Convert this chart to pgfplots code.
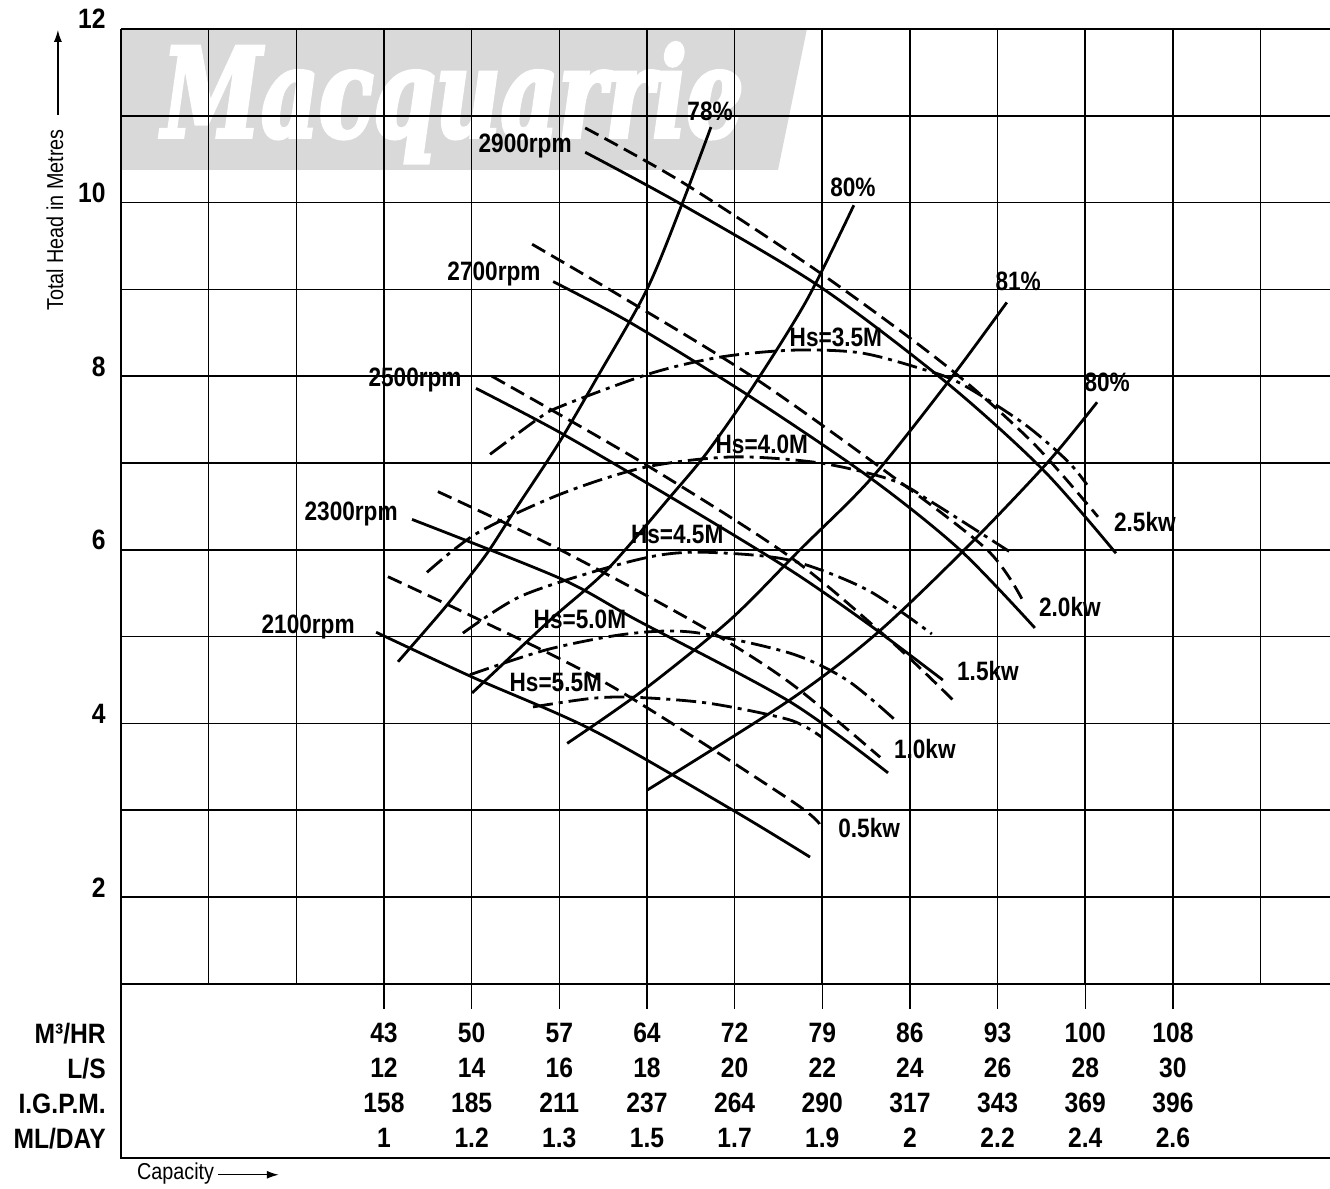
\documentclass[border=0pt]{standalone}
\usepackage{fontspec}
\setmainfont{Liberation Sans}
\newfontfamily\condb[FakeStretch=0.85]{Liberation Sans Bold}
\newfontfamily\condt[FakeStretch=0.88]{Liberation Sans Bold}
\newfontfamily\condr[FakeStretch=0.86]{Liberation Sans}
\newfontfamily\wmfont[FakeStretch=0.72,FakeBold=3]{DejaVu Serif Bold Italic}
\usepackage{pgfplots}
\pgfplotsset{compat=1.18}
\usetikzlibrary{arrows.meta}
\definecolor{wm}{RGB}{217,217,217}
\newcommand\tickf{\condt\fontsize{14}{17.5}\selectfont}
\newcommand\labf{\condb\fontsize{13.3}{14}\selectfont}
\begin{document}
\begin{tikzpicture}[
  dsh/.style={dash pattern=on 7.5pt off 3.5pt},
  dd/.style={dash pattern=on 10pt off 3pt on 2pt off 3pt},
  lab/.style={font=\labf, anchor=base, inner sep=0pt},
]
\begin{axis}[
  set layers,
  scale only axis,
  width=604.4pt, height=477.4pt,
  xmin=6, xmax=33.58, ymin=1, ymax=12,
  clip=false,
  axis line style={draw=none},
  /pgf/number format/assume math mode=true,
  xtick={12,14,...,30},
  xticklabels={{43\\12\\158\\1},{50\\14\\185\\1.2},{57\\16\\211\\1.3},{64\\18\\237\\1.5},{72\\20\\264\\1.7},{79\\22\\290\\1.9},{86\\24\\317\\2},{93\\26\\343\\2.2},{100\\28\\369\\2.4},{108\\30\\396\\2.6}},
  extra x ticks={6,8,10,32},
  extra x tick labels={},
  extra x tick style={major tick length=0pt, grid=major},
  ytick={2,4,...,12},
  yticklabels={2,4,6,8,10,12},
  extra y ticks={1,3,...,11},
  extra y tick labels={},
  extra y tick style={major tick length=0pt, grid=major},
  grid=major,
  major grid style={black, line width=0.8pt},
  tick style={black, line width=0.7pt},
  tick align=outside,
  tick pos=left,
  major tick length=12.5pt,
  ytick style={draw=none},
  xticklabel style={font=\tickf, align=center, anchor=north, inner sep=0pt, yshift=-7pt},
  yticklabel style={font=\tickf, anchor=base east, inner sep=0pt, xshift=5pt},
  no markers,
  every axis plot/.append style={black, line width=1.4pt, smooth, tension=0.5},
]
\begin{pgfonlayer}{axis background}
\fill[wm] (axis cs:6,12) -- (axis cs:21.65,12) -- (axis cs:20.99,10.376) -- (axis cs:6,10.376) -- cycle;
\node[anchor=base west, inner sep=0pt, text=white, font=\wmfont\fontsize{62}{62}\selectfont] at (axis cs:6.935,10.756) {Macquarrie};
\end{pgfonlayer}

% speed curves (solid)
\addplot[solid] coordinates {(16.59,10.58) (18.82,9.97) (21.95,9.03) (24.85,7.92) (27.04,6.92) (28.70,5.96)};
\addplot[solid] coordinates {(15.86,9.09) (17.61,8.62) (20.28,7.79) (23.09,6.83) (25.14,6.00) (26.85,5.10)};
\addplot[solid] coordinates {(14.10,7.86) (16.02,7.35) (18.53,6.61) (21.26,5.77) (23.09,5.13) (24.75,4.50)};
\addplot[solid] coordinates {(12.64,6.35) (16.02,5.67) (17.77,5.19) (21.26,4.25) (23.50,3.43)};
\addplot[solid] coordinates {(11.82,5.05) (14.03,4.53) (16.77,3.92) (19.96,3.00) (21.72,2.46)};
% power curves (dashed)
\addplot[dsh] coordinates {(16.59,10.86) (18.82,10.23) (21.95,9.19) (24.85,8.11) (26.81,7.23) (28.29,6.38)};
\addplot[dsh] coordinates {(15.38,9.52) (17.54,8.88) (20.42,7.99) (23.32,6.95) (25.76,6.00) (26.60,5.39)};
\addplot[dsh] coordinates {(14.46,8.00) (17.91,7.00) (21.26,5.92) (23.54,4.96) (24.98,4.27)};
\addplot[dsh] coordinates {(13.23,6.67) (16.02,6.00) (19.21,5.13) (21.26,4.47) (23.32,3.61)};
\addplot[dsh] coordinates {(12.09,5.69) (14.19,5.19) (17.22,4.42) (21.26,3.12) (21.95,2.83)};
% efficiency curves
\addplot[solid] coordinates {(12.32,4.71) (13.35,5.31) (14.01,5.73) (14.42,6.01) (15.03,6.49) (15.99,7.23) (16.88,8.00) (18.00,9.00) (18.82,10.01) (19.46,10.87)};
\addplot[solid] coordinates {(14.01,4.35) (15.79,5.19) (17.09,5.77) (18.53,6.61) (19.37,7.12) (20.42,7.88) (21.65,8.88) (22.72,9.97)};
\addplot[solid] coordinates {(16.18,3.77) (17.91,4.38) (19.89,5.19) (21.49,6.00) (23.13,6.83) (24.91,7.96) (26.21,8.85)};
\addplot[solid] coordinates {(18.00,3.23) (21.26,4.27) (23.25,5.04) (25.30,6.03) (27.13,7.00) (28.27,7.70)};
% suction head curves
\addplot[dd] coordinates {(14.42,7.10) (15.49,7.50) (16.02,7.65) (18.07,8.03) (19.67,8.22) (21.33,8.30) (22.86,8.27) (24.23,8.09) (25.14,7.92) (26.58,7.46) (27.58,7.03) (28.04,6.75)};
\addplot[dd] coordinates {(12.98,5.74) (14.12,6.19) (16.02,6.64) (17.95,6.95) (19.96,7.07) (21.95,7.00) (23.61,6.80) (24.53,6.54) (26.33,5.96)};
\addplot[dd] coordinates {(13.80,5.04) (15.10,5.46) (16.93,5.77) (18.30,5.94) (19.44,5.97) (21.26,5.88) (23.02,5.54) (24.50,5.03)};
\addplot[dd] coordinates {(13.96,4.56) (15.72,4.85) (17.54,5.03) (19.05,5.05) (21.26,4.81) (22.56,4.50) (23.66,4.04)};
\addplot[dd] coordinates {(15.40,4.19) (16.77,4.29) (17.77,4.30) (19.44,4.23) (21.26,4.04) (21.99,3.84)};

% curve labels
\node[lab] at (axis cs:15.22,10.58) {2900rpm};
\node[lab] at (axis cs:19.44,10.94) {78\%};
\node[lab] at (axis cs:22.70,10.07) {80\%};
\node[lab] at (axis cs:14.51,9.10) {2700rpm};
\node[lab] at (axis cs:26.47,8.99) {81\%};
\node[lab] at (axis cs:22.31,8.34) {Hs=3.5M};
\node[lab] at (axis cs:28.50,7.82) {80\%};
\node[lab] at (axis cs:12.71,7.88) {2500rpm};
\node[lab] at (axis cs:20.62,7.11) {Hs=4.0M};
\node[lab] at (axis cs:29.36,6.21) {2.5kw};
\node[lab] at (axis cs:11.25,6.34) {2300rpm};
\node[lab] at (axis cs:18.69,6.07) {Hs=4.5M};
\node[lab] at (axis cs:27.65,5.23) {2.0kw};
\node[lab] at (axis cs:16.47,5.09) {Hs=5.0M};
\node[lab] at (axis cs:10.27,5.04) {2100rpm};
\node[lab] at (axis cs:25.78,4.49) {1.5kw};
\node[lab] at (axis cs:15.92,4.37) {Hs=5.5M};
\node[lab] at (axis cs:24.34,3.59) {1.0kw};
\node[lab] at (axis cs:23.07,2.69) {0.5kw};

% frame of the capacity table
\draw[black, line width=0.8pt] (axis cs:6,1) -- (axis cs:6,-1.007) -- (axis cs:33.58,-1.007);
\node[anchor=base east, inner sep=0pt, font=\tickf] at (axis cs:5.66,0.318) {M³/HR};
\node[anchor=base east, inner sep=0pt, font=\tickf] at (axis cs:5.66,-0.086) {L/S};
\node[anchor=base east, inner sep=0pt, font=\tickf] at (axis cs:5.66,-0.489) {I.G.P.M.};
\node[anchor=base east, inner sep=0pt, font=\tickf] at (axis cs:5.66,-0.892) {ML/DAY};
% axis titles
\node[rotate=90, inner sep=0pt, font=\condr\fontsize{11.5}{12}\selectfont] at (axis cs:4.49,9.80) {Total Head in Metres};
\draw[black, line width=0.7pt, -{Latex[length=6pt,width=4pt]}] (axis cs:4.56,11.01) -- (axis cs:4.56,11.99);
\node[anchor=base west, inner sep=0pt, font=\condr\fontsize{11.5}{12}\selectfont] at (axis cs:6.36,-1.26) {Capacity};
\draw[black, line width=0.7pt, -{Latex[length=6pt,width=4pt]}] (axis cs:8.21,-1.20) -- (axis cs:9.60,-1.20);
\coordinate (BL) at (axis cs:3.239,-1.353);
\coordinate (TR) at (axis cs:33.584,12.334);
\end{axis}
\pgfresetboundingbox
\path[use as bounding box] (BL) rectangle (TR);
\end{tikzpicture}
\end{document}
